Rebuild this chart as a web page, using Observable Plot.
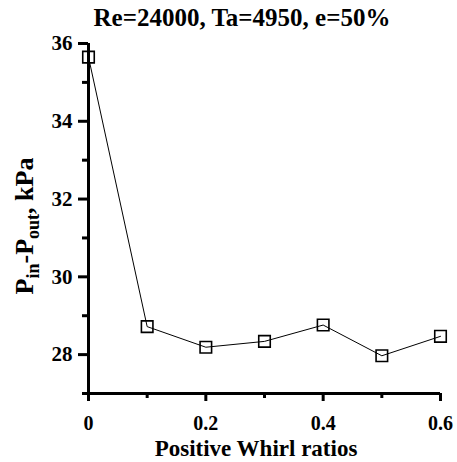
<!DOCTYPE html>
<html>
<head>
<meta charset="utf-8">
<script src="https://cdn.jsdelivr.net/npm/d3@7"></script>
<script src="https://cdn.jsdelivr.net/npm/@observablehq/plot@0.6"></script>
<style>
  body { margin: 0; background: #fff; font-family: "Liberation Serif", "DejaVu Serif", serif; }
  #wrap { position: relative; width: 457px; height: 462px; }
  #title { position: absolute; left: 0; top: 0; width: 484px; height: 30px; text-align: center;
           font-family: "Liberation Serif", "DejaVu Serif", serif;
           font-weight: bold; font-size: 25px; line-height: 36px; color: #000; }
  #chart { position: absolute; left: 0; top: 30px; }
  #chart svg text { font-family: "Liberation Serif", "DejaVu Serif", serif !important; font-weight: bold; }
</style>
</head>
<body>
<div id="wrap">
  <div id="title">Re=24000, Ta=4950, e=50%</div>
  <div id="chart"></div>
</div>
<script>
const whirlRatios = [0, 0.1, 0.2, 0.3, 0.4, 0.5, 0.6];
const pressureDrop = [35.65, 28.72, 28.19, 28.34, 28.76, 27.97, 28.47];
const xMajorTicks = [0, 0.2, 0.4, 0.6];
const xMinorTicks = [0.1, 0.3, 0.5];
const yMajorTicks = [28, 30, 32, 34, 36];
const yMinorTicks = [27, 29, 31, 33, 35];

const data = whirlRatios.map((x, i) => ({x, y: pressureDrop[i]}));

const serif = "'Liberation Serif', 'DejaVu Serif', serif";
const W = 457, H = 432;
const chart = Plot.plot({
  width: W,
  height: H,
  marginLeft: 88,
  marginRight: 17,
  marginTop: 13,
  marginBottom: 69,
  style: {fontFamily: serif, fontWeight: "bold", fontSize: "20px", color: "#000", background: "#fff"},
  x: {domain: [0, 0.6]},
  y: {domain: [27, 36]},
  marks: [
    Plot.axisX({ticks: xMajorTicks, tickSize: 8, tickPadding: 14, tickFormat: d => d === 0 ? "0" : String(d), stroke: "#000", strokeWidth: 3, strokeOpacity: 1, fontSize: 20, label: null}),
    Plot.axisX({ticks: xMinorTicks, tickSize: 5, tickFormat: () => "", stroke: "#000", strokeWidth: 3, strokeOpacity: 1, label: null}),
    Plot.axisY({ticks: yMajorTicks, tickSize: 10, tickPadding: 6, stroke: "#000", strokeWidth: 3, strokeOpacity: 1, fontSize: 21, label: null}),
    Plot.axisY({ticks: yMinorTicks, tickSize: 6, tickFormat: () => "", stroke: "#000", strokeWidth: 3, strokeOpacity: 1, label: null}),
    Plot.ruleX([0], {stroke: "#000", strokeWidth: 3}),
    Plot.ruleY([27], {stroke: "#000", strokeWidth: 3}),
    Plot.line(data, {x: "x", y: "y", stroke: "#000", strokeWidth: 1}),
    Plot.dot(data, {x: "x", y: "y", symbol: "square", r: 6.5, stroke: "#000", strokeWidth: 1.6, fill: "none"})
  ]
});
document.getElementById("chart").appendChild(chart);

const svg = d3.select(chart);
svg.append("text")
  .attr("x", 256)
  .attr("y", 426)
  .attr("text-anchor", "middle")
  .attr("font-family", serif)
  .attr("font-weight", "bold")
  .attr("font-size", 23)
  .attr("fill", "#000")
  .text("Positive Whirl ratios");

const yl = svg.append("text")
  .attr("transform", "translate(33,196) rotate(-90)")
  .attr("text-anchor", "middle")
  .attr("font-family", serif)
  .attr("font-weight", "bold")
  .attr("font-size", 26)
  .attr("fill", "#000");
yl.append("tspan").text("P");
yl.append("tspan").attr("font-size", 18).attr("dy", 6).text("in");
yl.append("tspan").attr("dy", -6).text("-P");
yl.append("tspan").attr("font-size", 18).attr("dy", 6).text("out");
yl.append("tspan").attr("dy", -6).text(", kPa");
</script>
</body>
</html>
